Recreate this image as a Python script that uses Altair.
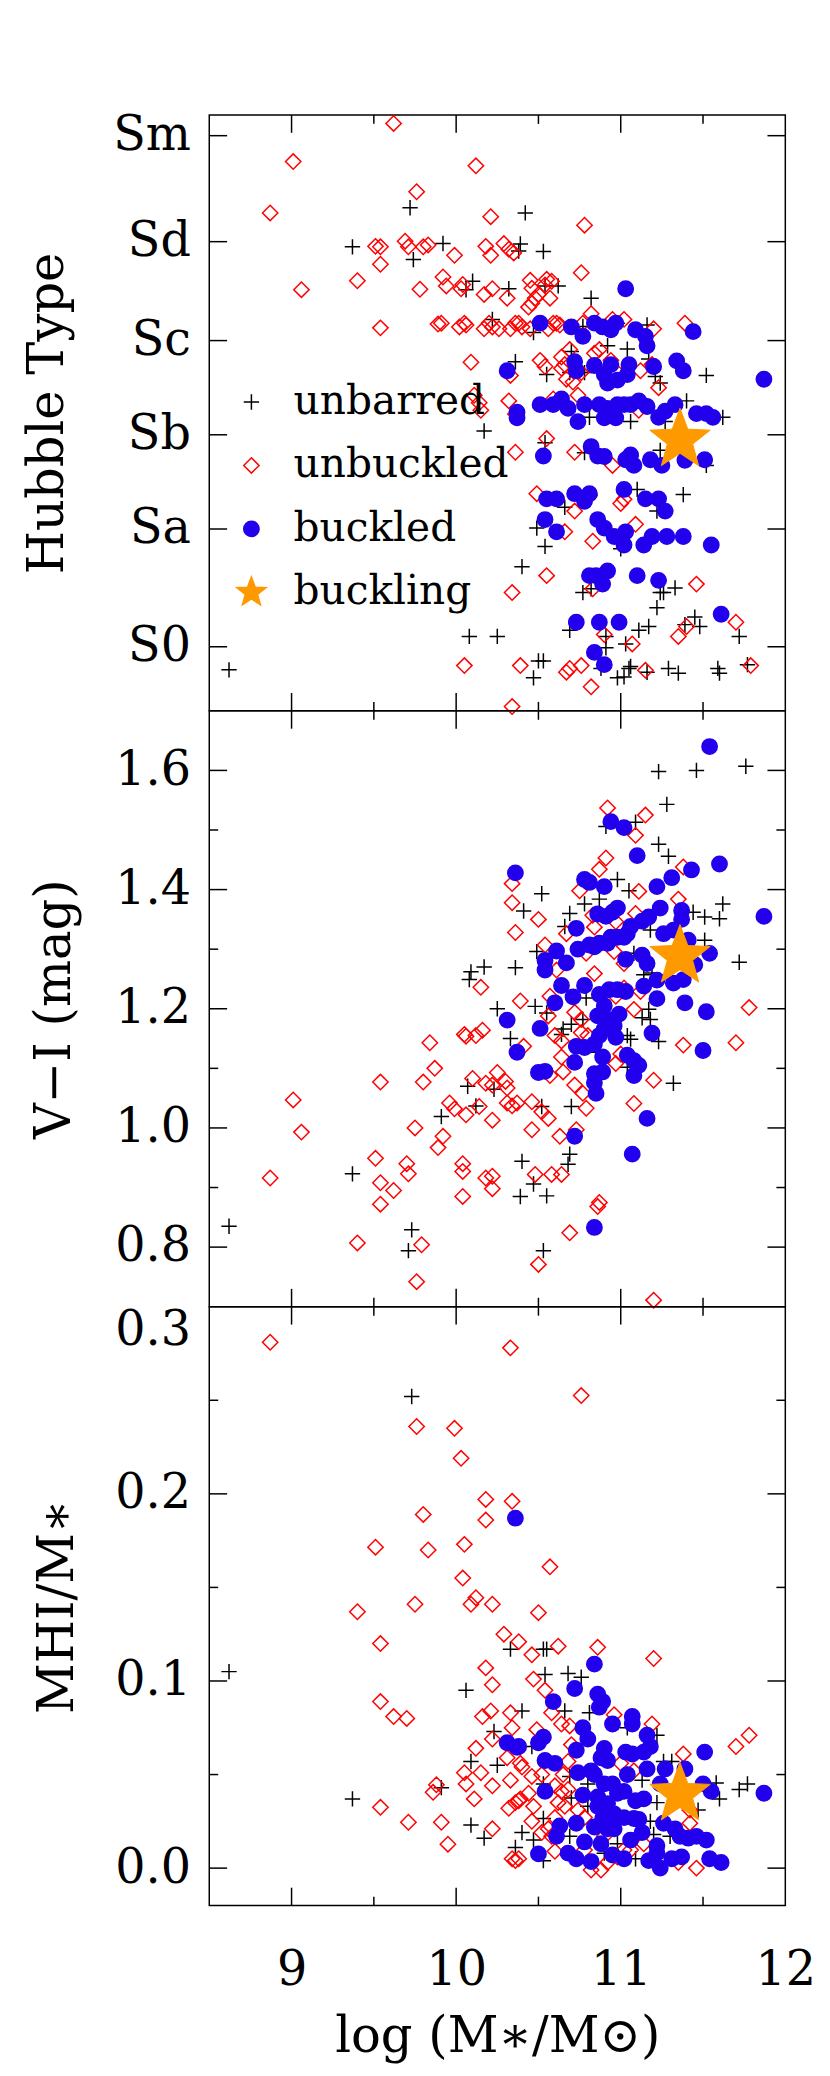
import altair as alt
import pandas as pd

# ---------------------------------------------------------------- data
KINDS = ["unbarred", "unbuckled", "buckled", "buckling"]

# Panel 1: Hubble type (numeric type code) vs log(M*/Msun)
TYPE_LABELS = ["S0", "Sa", "Sb", "Sc", "Sd", "Sm"]
TYPE_CODES = [-1.5, 1.0, 3.0, 5.0, 7.1, 9.35]

hub_unbarred = [
    (8.62, -1.99), (9.37, 6.99), (9.72, 7.82), (9.74, 6.72), (9.92, 7.06), (10.42, 7.71),
    (10.39, 7.05), (10.38, 6.90), (10.53, 6.89), (10.10, 6.26), (10.06, 6.08), (10.32, 6.10),
    (10.54, 6.16), (10.62, 6.16), (10.82, 5.90), (10.22, 5.45), (10.47, 5.17), (10.77, 5.30),
    (10.98, 5.37), (11.16, 5.33), (10.36, 4.55), (10.55, 4.28), (10.70, 4.77), (10.69, 4.32),
    (10.78, 4.32), (10.92, 4.89), (11.04, 4.82), (11.21, 4.24), (11.24, 4.10), (11.52, 4.26),
    (11.17, 4.61), (10.17, 3.08), (10.81, 3.37), (11.06, 3.28), (11.40, 3.72), (11.62, 3.37),
    (11.27, 3.28), (10.54, 2.83), (10.78, 2.62), (11.24, 2.67), (11.52, 2.35), (10.66, 1.46),
    (11.10, 1.84), (11.38, 1.73), (11.22, 1.38), (10.49, 1.02), (10.54, 0.63), (11.00, 0.58),
    (10.40, 0.20), (10.77, -0.35), (10.82, -0.27), (11.24, -0.35), (11.26, -0.35), (11.33, -0.25),
    (11.22, -0.67), (10.08, -1.28), (10.25, -1.28), (10.69, -1.15), (10.91, -1.28), (10.91, -1.52),
    (11.03, -1.44), (11.11, -1.15), (11.17, -1.07), (11.39, -1.03), (11.45, -0.87), (11.48, -1.07),
    (11.72, -1.28), (10.47, -2.16), (10.50, -1.80), (10.53, -1.80), (10.88, -1.96), (10.98, -2.16),
    (11.02, -2.14), (11.05, -1.96), (11.06, -1.92), (11.16, -2.04), (11.29, -1.96), (11.35, -2.06),
    (11.59, -1.96), (11.60, -2.06), (11.77, -1.88),
]
hub_unbuckled = [
    (9.62, 9.61), (9.01, 8.80), (10.12, 8.71), (9.76, 8.16), (8.87, 7.71), (10.21, 7.63), (10.78, 7.45),
    (9.51, 7.00), (9.54, 6.99), (9.54, 6.62), (9.69, 7.11), (9.71, 6.99), (9.80, 6.99), (9.83, 7.03),
    (9.99, 6.81), (10.18, 7.00), (10.21, 6.81), (10.29, 7.06), (10.32, 6.94), (10.35, 6.86),
    (10.76, 6.44), (9.06, 6.08), (9.40, 6.27), (9.78, 6.09), (9.92, 6.35), (9.94, 6.16), (10.03, 6.10),
    (10.04, 6.19), (10.17, 5.98), (10.22, 6.10), (10.31, 5.90), (10.45, 6.28), (10.46, 6.11),
    (10.50, 5.98), (10.48, 5.90), (10.44, 5.71), (10.46, 5.79), (10.55, 6.30), (10.58, 6.26),
    (10.54, 6.18), (10.57, 5.90), (9.54, 5.27), (9.89, 5.35), (9.91, 5.37), (10.02, 5.29),
    (10.05, 5.37), (10.06, 5.33), (10.17, 5.25), (10.20, 5.37), (10.22, 5.29), (10.26, 5.25),
    (10.33, 5.25), (10.36, 5.37), (10.38, 5.37), (10.40, 5.29), (10.45, 5.25), (10.56, 5.25),
    (10.59, 5.37), (10.61, 5.37), (10.63, 5.33), (10.77, 5.37), (10.82, 5.57), (10.95, 5.45),
    (11.02, 5.45), (11.20, 5.25), (11.39, 5.37), (10.09, 4.54), (10.33, 4.26), (10.51, 4.58),
    (10.54, 4.45), (10.64, 4.65), (10.69, 4.81), (10.66, 4.49), (10.64, 4.41), (10.67, 4.18),
    (10.71, 4.12), (10.76, 4.32), (10.84, 4.73), (10.87, 4.81), (10.94, 4.58), (10.98, 4.32),
    (11.12, 4.36), (11.19, 4.49), (11.23, 4.00), (10.11, 3.84), (10.14, 3.68), (10.15, 3.52),
    (10.32, 3.72), (10.36, 3.44), (10.74, 3.84), (10.59, 3.76), (11.11, 3.52), (10.55, 2.92),
    (10.36, 2.63), (10.72, 2.63), (10.95, 2.35), (11.06, 2.55), (10.49, 1.75), (10.72, 1.38),
    (10.81, 1.71), (11.00, 1.54), (11.02, 1.63), (10.66, 0.94), (10.83, 0.74), (11.09, 1.10),
    (10.55, 0.01), (10.34, -0.35), (10.83, -0.27), (11.46, -0.17), (10.90, -1.24), (11.07, -1.44),
    (11.35, -1.28), (11.40, -1.07), (11.70, -0.98), (10.05, -1.90), (10.39, -1.90), (10.67, -2.04),
    (10.69, -1.96), (10.76, -1.90), (10.82, -2.35), (11.15, -2.00), (11.79, -1.90), (10.34, -2.77),
]
hub_buckled = [
    (11.03, 6.10), (10.51, 5.37), (10.70, 5.29), (10.77, 5.09), (10.84, 5.37), (10.89, 5.29),
    (10.94, 5.23), (10.97, 5.37), (11.09, 5.23), (11.15, 5.09), (11.16, 4.89), (11.44, 5.19),
    (10.31, 4.36), (10.72, 4.55), (10.73, 4.36), (10.84, 4.47), (10.94, 4.49), (10.90, 4.28),
    (10.92, 4.10), (10.98, 4.16), (11.05, 4.49), (11.04, 4.28), (11.20, 4.45), (11.34, 4.57),
    (11.38, 4.36), (11.87, 4.18), (10.37, 3.48), (10.37, 3.36), (10.51, 3.64), (10.59, 3.64),
    (10.64, 3.76), (10.68, 3.56), (10.74, 3.28), (10.78, 3.64), (10.87, 3.64), (10.90, 3.36),
    (10.92, 3.56), (10.98, 3.64), (10.97, 3.36), (11.02, 3.64), (11.06, 3.64), (11.11, 3.72),
    (11.16, 3.60), (11.23, 3.37), (11.27, 3.50), (11.33, 3.64), (11.46, 3.45), (11.52, 3.45),
    (11.56, 3.37), (10.53, 2.55), (10.82, 2.75), (10.86, 2.55), (10.90, 2.54), (11.03, 2.47),
    (11.06, 2.57), (11.08, 2.35), (11.18, 2.47), (11.25, 2.35), (11.39, 2.46), (11.51, 2.47),
    (10.55, 1.64), (10.61, 1.64), (10.72, 1.75), (10.78, 1.59), (10.81, 1.75), (11.02, 1.84),
    (11.15, 1.64), (11.23, 1.64), (11.27, 1.38), (10.54, 1.20), (10.61, 0.94), (10.86, 1.20),
    (10.90, 1.02), (10.96, 0.84), (11.03, 0.94), (11.02, 0.66), (11.14, 0.66), (11.19, 0.84),
    (11.28, 0.84), (11.38, 0.84), (11.55, 0.66), (10.81, 0.01), (10.85, 0.01), (10.92, 0.11),
    (10.89, -0.17), (11.10, 0.01), (11.23, -0.09), (10.73, -0.98), (10.87, -0.98), (10.99, -0.98),
    (11.61, -0.81), (10.84, -1.62), (10.90, -1.88),
]
hub_buckling = [(11.36, 2.89)]

# Panel 2: V-I colour (mag) vs log(M*/Msun)
vi_unbarred = [
    (8.62, 0.835), (9.37, 0.923), (9.73, 0.829), (9.71, 0.794), (10.09, 1.262), (10.08, 1.249),
    (10.17, 1.270), (10.36, 1.269), (10.41, 1.364), (10.25, 1.200), (10.33, 1.150), (10.07, 1.070),
    (10.12, 1.037), (10.23, 1.065), (9.91, 1.019), (10.40, 0.944), (10.39, 0.885), (11.23, 1.598),
    (11.46, 1.600), (11.76, 1.607), (11.28, 1.543), (11.09, 1.513), (10.91, 1.506), (11.23, 1.476),
    (11.29, 1.456), (10.98, 1.417), (11.05, 1.398), (10.52, 1.393), (10.78, 1.376), (10.87, 1.384),
    (10.69, 1.360), (11.44, 1.362), (11.62, 1.376), (11.51, 1.354), (11.60, 1.351), (11.18, 1.332),
    (10.66, 1.338), (10.49, 1.296), (11.08, 1.293), (11.51, 1.315), (11.72, 1.278), (11.14, 1.257),
    (11.19, 1.260), (10.79, 1.218), (10.48, 1.204), (10.55, 1.193), (11.17, 1.199), (11.13, 1.185),
    (11.18, 1.182), (10.70, 1.174), (10.77, 1.182), (10.64, 1.157), (10.65, 1.166), (11.04, 1.155),
    (11.06, 1.149), (11.23, 1.145), (10.86, 1.127), (11.04, 1.102), (11.32, 1.075), (10.52, 1.036),
    (10.70, 1.036), (10.69, 0.956), (10.68, 0.939), (10.53, 0.794), (10.55, 0.886), (10.47, 0.906),
]
vi_unbuckled = [
    (8.87, 0.916), (9.01, 1.047), (9.06, 0.993), (9.40, 0.807), (9.54, 1.077), (9.51, 0.949),
    (9.54, 0.908), (9.54, 0.872), (9.62, 0.895), (9.70, 0.940), (9.71, 0.923), (9.75, 1.000),
    (9.79, 0.804), (9.76, 0.742), (9.80, 1.077), (9.84, 1.143), (9.87, 1.100), (9.89, 0.967),
    (9.92, 0.986), (9.99, 1.032), (9.96, 1.042), (10.05, 1.157), (10.06, 1.154), (10.04, 0.940),
    (10.04, 0.927), (10.04, 0.885), (10.06, 1.022), (10.10, 1.083), (10.12, 1.155), (10.16, 1.164),
    (10.15, 1.236), (10.14, 1.036), (10.18, 1.075), (10.22, 1.072), (10.18, 0.916), (10.22, 0.919),
    (10.22, 0.898), (10.22, 1.013), (10.25, 1.093), (10.30, 1.078), (10.31, 1.067), (10.34, 1.410),
    (10.34, 1.378), (10.36, 1.328), (10.39, 1.213), (10.31, 1.042), (10.34, 1.037), (10.37, 1.042),
    (10.41, 1.137), (10.92, 1.537), (11.15, 1.525), (11.09, 1.491), (10.91, 1.453), (10.87, 1.434),
    (11.38, 1.438), (10.75, 1.398), (11.11, 1.397), (11.35, 1.384), (10.83, 1.357), (10.97, 1.346),
    (11.09, 1.360), (10.50, 1.350), (10.67, 1.326), (10.84, 1.337), (10.54, 1.307), (10.79, 1.293),
    (10.96, 1.296), (11.02, 1.276), (10.61, 1.265), (10.84, 1.259), (11.02, 1.235), (10.97, 1.221),
    (11.12, 1.229), (10.57, 1.221), (11.08, 1.199), (11.78, 1.202), (10.72, 1.194), (10.76, 1.182),
    (10.56, 1.188), (10.60, 1.155), (10.64, 1.146), (10.76, 1.160), (10.80, 1.155), (11.38, 1.139),
    (11.70, 1.143), (10.64, 1.119), (10.65, 1.094), (10.97, 1.108), (11.00, 1.124), (10.72, 1.072),
    (10.77, 1.058), (10.79, 1.033), (10.57, 1.088), (11.20, 1.080), (11.08, 1.041), (10.46, 1.044),
    (10.52, 1.027), (10.56, 1.016), (10.46, 0.997), (10.63, 0.986), (10.73, 0.997), (10.48, 0.922),
    (10.58, 0.922), (10.64, 0.922), (10.87, 0.875), (10.86, 0.868), (10.69, 0.824), (10.50, 0.771),
    (11.20, 0.711),
]
vi_buckled = [
    (10.36, 1.428), (10.31, 1.181), (10.37, 1.127), (11.54, 1.640), (10.94, 1.514), (11.02, 1.504),
    (11.10, 1.457), (11.60, 1.443), (11.43, 1.433), (11.31, 1.420), (11.22, 1.405), (10.78, 1.417),
    (10.81, 1.412), (10.90, 1.405), (11.87, 1.355), (11.37, 1.365), (11.37, 1.350), (11.24, 1.369),
    (10.98, 1.369), (10.95, 1.362), (10.91, 1.355), (10.86, 1.359), (11.17, 1.354), (11.13, 1.347),
    (11.06, 1.338), (11.04, 1.326), (11.02, 1.320), (10.98, 1.320), (10.94, 1.320), (10.92, 1.310),
    (10.87, 1.310), (10.84, 1.304), (10.81, 1.307), (10.73, 1.335), (10.74, 1.300), (10.61, 1.297),
    (11.26, 1.326), (11.32, 1.332), (11.41, 1.315), (11.54, 1.293), (11.45, 1.274), (11.13, 1.290),
    (11.16, 1.276), (11.03, 1.283), (10.67, 1.277), (10.54, 1.281), (10.54, 1.265), (11.22, 1.248),
    (11.32, 1.243), (11.38, 1.249), (11.14, 1.238), (10.64, 1.239), (10.78, 1.239), (10.71, 1.220),
    (10.93, 1.232), (10.98, 1.232), (11.03, 1.229), (10.87, 1.224), (10.90, 1.205), (10.60, 1.210),
    (11.22, 1.217), (11.39, 1.210), (11.52, 1.195), (10.51, 1.167), (10.86, 1.188), (10.92, 1.182),
    (10.99, 1.191), (10.96, 1.171), (10.90, 1.166), (10.87, 1.155), (10.97, 1.152), (11.19, 1.159),
    (10.73, 1.137), (10.78, 1.135), (10.84, 1.141), (11.50, 1.130), (10.89, 1.119), (11.04, 1.122),
    (11.08, 1.113), (11.11, 1.105), (11.08, 1.088), (10.72, 1.110), (10.50, 1.093), (10.54, 1.095),
    (10.84, 1.091), (10.89, 1.094), (10.84, 1.076), (10.85, 1.058), (11.16, 1.016), (10.72, 0.986),
    (11.07, 0.956), (10.84, 0.833),
]
vi_buckling = [(11.36, 1.288)]

# Panel 3: HI gas fraction vs log(M*/Msun)
hi_unbarred = [
    (8.62, 0.105), (9.37, 0.037), (9.73, 0.252), (10.06, 0.095), (10.23, 0.073), (10.09, 0.057),
    (10.25, 0.055), (9.91, 0.043), (10.09, 0.023), (10.17, 0.016), (10.33, 0.117), (10.36, 0.011),
    (10.53, 0.117), (10.55, 0.117), (10.68, 0.104), (10.76, 0.102), (10.54, 0.1035), (10.40, 0.084),
    (10.66, 0.084), (10.81, 0.083), (11.04, 0.075), (11.22, 0.071), (11.26, 0.057), (11.31, 0.057),
    (10.46, 0.065), (10.69, 0.049), (10.53, 0.045), (10.80, 0.045), (11.13, 0.047), (11.58, 0.0455),
    (11.60, 0.037), (11.72, 0.042), (11.77, 0.045), (11.47, 0.031), (11.22, 0.035), (10.70, 0.0375),
    (10.40, 0.019), (10.47, 0.015), (10.53, 0.0265), (10.69, 0.017), (10.80, 0.033), (10.98, 0.013),
    (11.18, 0.025), (11.20, 0.018), (11.30, 0.017), (11.09, 0.005), (10.53, 0.004), (10.90, 0.008),
]
hi_unbuckled = [
    (8.87, 0.281), (10.33, 0.278), (10.76, 0.2525), (9.76, 0.236), (9.99, 0.235), (10.03, 0.219),
    (10.18, 0.197), (10.34, 0.196), (10.18, 0.186), (9.80, 0.189), (9.51, 0.1715), (9.83, 0.170),
    (10.05, 0.173), (10.57, 0.161), (10.04, 0.155), (9.40, 0.137), (9.75, 0.141), (10.09, 0.141),
    (10.12, 0.1445), (10.22, 0.141), (10.50, 0.1365), (9.54, 0.120), (10.29, 0.125), (10.38, 0.121),
    (10.18, 0.107), (10.22, 0.098), (9.54, 0.089), (9.62, 0.081), (9.70, 0.080), (10.16, 0.081),
    (10.21, 0.084), (10.33, 0.083), (10.34, 0.075), (10.12, 0.064), (10.22, 0.069), (9.88, 0.0445),
    (9.86, 0.0405), (10.05, 0.051), (10.06, 0.045), (10.11, 0.037), (10.15, 0.051), (10.22, 0.044),
    (10.31, 0.059), (10.39, 0.056), (10.33, 0.047), (10.39, 0.037), (10.36, 0.035), (10.32, 0.032),
    (9.54, 0.0325), (9.71, 0.0245), (9.91, 0.0245), (9.95, 0.0128), (10.22, 0.021), (10.34, 0.005),
    (10.36, 0.004), (10.46, 0.114), (10.62, 0.1186), (10.86, 0.118), (11.20, 0.112), (10.47, 0.101),
    (10.54, 0.095), (10.58, 0.083), (10.64, 0.077), (10.69, 0.076), (10.96, 0.082), (11.19, 0.077),
    (10.49, 0.074), (11.78, 0.071), (11.70, 0.065), (11.38, 0.061), (10.40, 0.054), (10.46, 0.049),
    (10.70, 0.066), (10.68, 0.057), (10.65, 0.050), (10.52, 0.050), (10.60, 0.044), (10.64, 0.041),
    (10.68, 0.042), (10.44, 0.040), (10.47, 0.033), (10.38, 0.036), (10.62, 0.035), (10.66, 0.033),
    (10.60, 0.027), (10.56, 0.021), (10.52, 0.019), (10.74, 0.031), (10.78, 0.027), (10.46, 0.025),
    (10.58, 0.017), (10.60, 0.009), (11.00, 0.056), (11.08, 0.052), (11.42, 0.031), (11.42, 0.024),
    (11.06, 0.0097), (11.14, 0.013), (10.82, -0.001), (10.88, -0.001), (10.92, 0.003), (10.98, 0.006),
    (11.02, 0.0097), (11.35, 0.003), (11.46, 0.000), (10.38, 0.005), (10.78, 0.0097), (10.90, 0.017),
]
hi_buckled = [
    (10.36, 0.187), (10.31, 0.067), (10.37, 0.0645), (10.84, 0.109), (10.72, 0.096), (10.86, 0.093),
    (10.89, 0.089), (10.87, 0.086), (10.59, 0.089), (11.07, 0.081), (11.07, 0.077), (10.95, 0.077),
    (10.77, 0.075), (10.80, 0.069), (10.53, 0.070), (10.50, 0.067), (10.38, 0.065), (11.16, 0.071),
    (11.18, 0.065), (11.14, 0.062), (10.90, 0.064), (10.88, 0.059), (10.92, 0.0575), (10.73, 0.063),
    (11.03, 0.062), (11.07, 0.061), (11.51, 0.062), (10.54, 0.0575), (10.60, 0.056), (10.74, 0.051),
    (10.82, 0.052), (10.84, 0.050), (11.04, 0.050), (11.16, 0.053), (11.27, 0.053), (11.39, 0.053),
    (11.24, 0.045), (11.50, 0.045), (11.55, 0.041), (11.87, 0.040), (10.54, 0.041), (10.77, 0.039),
    (10.90, 0.045), (10.95, 0.045), (10.98, 0.040), (11.02, 0.041), (10.86, 0.038), (10.92, 0.0345),
    (10.86, 0.033), (11.09, 0.036), (11.14, 0.037), (10.96, 0.029), (11.02, 0.027), (11.08, 0.0265),
    (11.11, 0.026), (10.73, 0.024), (10.63, 0.0225), (10.84, 0.022), (10.90, 0.024), (10.96, 0.021),
    (11.26, 0.024), (11.33, 0.021), (11.36, 0.017), (11.41, 0.016), (11.46, 0.017), (11.52, 0.015),
    (11.13, 0.019), (10.61, 0.017), (10.78, 0.014), (10.88, 0.013), (11.06, 0.015), (11.22, 0.012),
    (11.22, 0.008), (10.50, 0.0076), (10.68, 0.008), (10.73, 0.005), (10.82, 0.0035), (10.95, 0.007),
    (11.02, 0.005), (11.17, 0.004), (11.24, 0.000), (11.31, 0.005), (11.37, 0.006), (11.54, 0.005),
    (11.61, 0.003), (10.92, 0.021), (10.89, 0.0265),
]
hi_buckling = [(11.36, 0.0395)]

X_DOMAIN = [8.5, 12.0]
X_LABELS = [9, 10, 11, 12]
X_MAJOR = [9.0, 10.0, 11.0]
X_MINOR = [9.5, 10.5, 11.5]

VI_DOMAIN = [0.7, 1.7]
VI_MAJOR = [0.8, 1.0, 1.2, 1.4, 1.6]
VI_MINOR = [0.9, 1.1, 1.3, 1.5]

HI_DOMAIN = [-0.02, 0.3]
HI_LABELS = [0.0, 0.1, 0.2, 0.3]
HI_MAJOR = [0.0, 0.1, 0.2]
HI_MINOR = [0.05, 0.15, 0.25]

T_DOMAIN = [-2.86, 9.79]

# ---------------------------------------------------------------- style
FONT = "DejaVu Serif"
BLUE = "#2200ee"
ORANGE = "#ff9900"
W = 581
HEIGHTS = [601, 601, 604]
TICK_MAJOR, TICK_MINOR = 18, 9
LW = 1.5

PLUS = "M-1,0L1,0M0,-1L0,1"
STAR = ("M0,-2L0.494,-0.680L1.902,-0.618L0.799,0.260L1.176,1.618L0,0.84"
        "L-1.176,1.618L-0.799,0.260L-1.902,-0.618L-0.494,-0.680Z")
# tick glyphs: a line from the anchor point into the plot, length sqrt(size)
TICK_RIGHT = "M0,0L2,0"
TICK_LEFT = "M0,0L-2,0"
TICK_DOWN = "M0,0L0,2"
TICK_UP = "M0,0L0,-2"

shape_scale = alt.Scale(domain=KINDS, range=[PLUS, "diamond", "circle", STAR])
fill_scale = alt.Scale(domain=KINDS, range=["transparent", "transparent", BLUE, ORANGE])
stroke_scale = alt.Scale(domain=KINDS, range=["black", "red", BLUE, ORANGE])

LEGEND = alt.Legend(
    orient="none", legendX=22, legendY=269, title=None,
    labelFont=FONT, labelFontSize=41, labelColor="black", labelOffset=22, labelLimit=0,
    symbolSize=240, symbolStrokeWidth=LW, symbolOpacity=1,
    rowPadding=22, padding=0, offset=0,
)


def frame(name, pairs, ycol):
    return pd.DataFrame({"logM": [p[0] for p in pairs],
                         ycol: [p[1] for p in pairs],
                         "kind": name})


def panel(groups, ycol, ydomain, ylabel_axis, ymajor, yminor, height, xlabel_axis, legend):
    df = pd.concat([frame(k, g, ycol) for k, g in zip(KINDS[:3], groups[:3])], ignore_index=True)
    sdf = frame(KINDS[3], groups[3], ycol)
    xs = alt.Scale(domain=X_DOMAIN, nice=False, zero=False)
    ys = alt.Scale(domain=ydomain, nice=False, zero=False)

    def kind_enc():
        return dict(
            shape=alt.Shape("kind:N", scale=shape_scale, legend=legend),
            fill=alt.Fill("kind:N", scale=fill_scale, legend=legend),
            stroke=alt.Stroke("kind:N", scale=stroke_scale, legend=legend),
        )

    layers = [
        alt.Chart(df).mark_point(size=240, strokeWidth=LW, opacity=1).encode(
            x=alt.X("logM:Q", scale=xs, axis=xlabel_axis),
            y=alt.Y(f"{ycol}:Q", scale=ys, axis=ylabel_axis),
            **kind_enc(),
        ),
        alt.Chart(sdf).mark_point(size=1024, strokeWidth=1, opacity=1).encode(
            x=alt.X("logM:Q", scale=xs, axis=None),
            y=alt.Y(f"{ycol}:Q", scale=ys, axis=None),
            **kind_enc(),
        ),
    ]

    # inward-pointing frame ticks, anchored on the frame edges through the scales
    def tick_layer(xvals, yvals, shape, length):
        d = pd.DataFrame({"logM": xvals, ycol: yvals})
        return alt.Chart(d).mark_point(
            shape=shape, size=length * length, filled=False, color="black",
            strokeWidth=LW, opacity=1,
        ).encode(
            x=alt.X("logM:Q", scale=xs, axis=None),
            y=alt.Y(f"{ycol}:Q", scale=ys, axis=None),
        )

    for values, size in [(X_MAJOR, TICK_MAJOR), (X_MINOR, TICK_MINOR)]:
        layers.append(tick_layer(values, [ydomain[1]] * len(values), TICK_DOWN, size))
        layers.append(tick_layer(values, [ydomain[0]] * len(values), TICK_UP, size))
    for values, size in [(ymajor, TICK_MAJOR), (yminor, TICK_MINOR)]:
        if not values:
            continue
        layers.append(tick_layer([X_DOMAIN[0]] * len(values), values, TICK_RIGHT, size))
        layers.append(tick_layer([X_DOMAIN[1]] * len(values), values, TICK_LEFT, size))

    return alt.layer(*layers).resolve_axis(
        x="independent", y="independent"
    ).properties(width=W, height=height)


def ylab_axis(values, title, pad, fmt=None, expr=None, flush=False):
    kw = dict(
        orient="left", values=values, ticks=False, tickSize=0, domain=False, grid=False,
        labelFont=FONT, labelFontSize=48, labelColor="black", labelPadding=19,
        labelOverlap=False, labelFlush=flush,
        title=title, titleFont=FONT, titleFontSize=50, titleFontWeight="normal",
        titleColor="black", titlePadding=pad,
    )
    if fmt:
        kw["format"] = fmt
    if expr:
        kw["labelExpr"] = expr
    return alt.Axis(**kw)


type_expr = " : ".join(
    f"datum.value < {c + 0.5} ? '{l}'" for c, l in zip(TYPE_CODES[:-1], TYPE_LABELS[:-1])
) + f" : '{TYPE_LABELS[-1]}'"

xlab = alt.Axis(
    orient="bottom", values=X_LABELS, format="d", ticks=False, tickSize=0, domain=False,
    grid=False, labelFont=FONT, labelFontSize=48, labelColor="black", labelPadding=42,
    labelFlush=False, labelOverlap=False,
    title="log (M∗/M⊙)", titleFont=FONT, titleFontSize=50, titleFontWeight="normal",
    titleColor="black", titlePadding=17,
)

p1 = panel([hub_unbarred, hub_unbuckled, hub_buckled, hub_buckling], "T", T_DOMAIN,
           ylab_axis(TYPE_CODES, "Hubble Type", 41, expr=type_expr), TYPE_CODES, [],
           HEIGHTS[0], None, LEGEND)
p2 = panel([vi_unbarred, vi_unbuckled, vi_buckled, vi_buckling], "VI", VI_DOMAIN,
           ylab_axis(VI_MAJOR, "V−I (mag)", 36, fmt=".1f"), VI_MAJOR, VI_MINOR,
           HEIGHTS[1], None, None)
p3 = panel([hi_unbarred, hi_unbuckled, hi_buckled, hi_buckling], "HI", HI_DOMAIN,
           ylab_axis(HI_LABELS, "MHI/M∗", 33, fmt=".1f", flush=True), HI_MAJOR, HI_MINOR,
           HEIGHTS[2], xlab, None)

chart = alt.vconcat(p1, p2, p3, spacing=0, bounds="flush").resolve_scale(
    shape="independent", fill="independent", stroke="independent"
).properties(
    padding={"left": 13, "top": 95, "right": 5, "bottom": 0}
).configure_view(stroke="black", strokeWidth=LW)

chart.save("out.html", embed_options={"renderer": "svg", "actions": False})
